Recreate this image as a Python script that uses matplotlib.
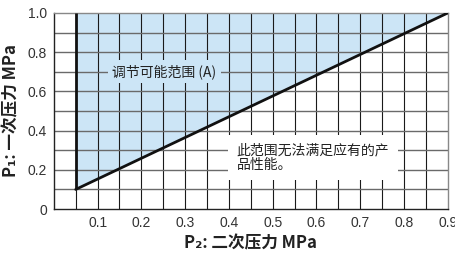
import numpy as np
import matplotlib
matplotlib.use('Agg')
import matplotlib.pyplot as plt

plt.rcParams['font.family'] = ['Noto Sans CJK SC', 'DejaVu Sans']

# boundary of the adjustable range (A)
p2_edge = [0.05, 0.05, 0.9]
p1_edge = [0.1, 1.0, 1.0]
# lower limit line
p2_line = [0.05, 0.9]
p1_line = [0.1, 1.0]

x_ticks = [0.1, 0.2, 0.3, 0.4, 0.5, 0.6, 0.7, 0.8, 0.9]
x_labels = ['0.1', '0.2', '0.3', '0.4', '0.5', '0.6', '0.7', '0.8', '0.9']
y_ticks = [0, 0.2, 0.4, 0.6, 0.8, 1.0]
y_labels = ['0', '0.2', '0.4', '0.6', '0.8', '1.0']
x_grid = np.arange(0.05, 0.9, 0.05)
y_grid = np.arange(0.1, 1.0, 0.1)

fig = plt.figure(figsize=(4.56, 2.54), dpi=100)
ax = fig.add_axes([0.118, 0.177, 0.864, 0.772])

ax.fill(p2_edge, p1_edge, color='#cce5f6', zorder=1, lw=0)

for gx in x_grid:
    ax.axvline(gx, color='#1a1a1a', lw=0.8, zorder=2)
for gy in y_grid:
    ax.axhline(gy, color='#6a6a6a', lw=1.0, zorder=2)

ax.plot([p2_edge[0], p2_edge[1]], [p1_edge[0], p1_edge[1]], color='#111111', lw=2.0, zorder=4,
        solid_capstyle='butt')
ax.plot(p2_line, p1_line, color='#111111', lw=2.0, zorder=4, solid_capstyle='round')

ax.text(0.253, 0.7, '调节可能范围 (A)', fontsize=10, color='#222222', ha='center', va='center',
        zorder=5, bbox=dict(boxstyle='square,pad=0.3', fc='#cce5f6', ec='none'))
ax.text(0.418, 0.262, '此范围无法满足应有的产\n品性能。', fontsize=10, color='#222222', ha='left',
        va='center', linespacing=1.05, zorder=5,
        bbox=dict(boxstyle='square,pad=0.6', fc='white', ec='none'))

ax.set_xlim(0, 0.9)
ax.set_ylim(0, 1.0)
ax.set_xticks(x_ticks)
ax.set_xticklabels(x_labels, family=['Liberation Sans', 'DejaVu Sans'])
ax.set_yticks(y_ticks)
ax.set_yticklabels(y_labels, family=['Liberation Sans', 'DejaVu Sans'])
ax.tick_params(length=0, labelsize=10, labelcolor='#333333', pad=5)

for s in ['left', 'bottom']:
    ax.spines[s].set_color('#222222')
    ax.spines[s].set_linewidth(1.0)
for s in ['right', 'top']:
    ax.spines[s].set_color('#888888')
    ax.spines[s].set_linewidth(1.0)

ax.set_xlabel('P₂: 二次压力 MPa', fontsize=12, fontweight='bold', color='#222222', labelpad=3)
ax.set_ylabel('P₁: 一次压力 MPa', fontsize=12, fontweight='bold', color='#222222', labelpad=5)

fig.savefig('out.png', dpi=100)
